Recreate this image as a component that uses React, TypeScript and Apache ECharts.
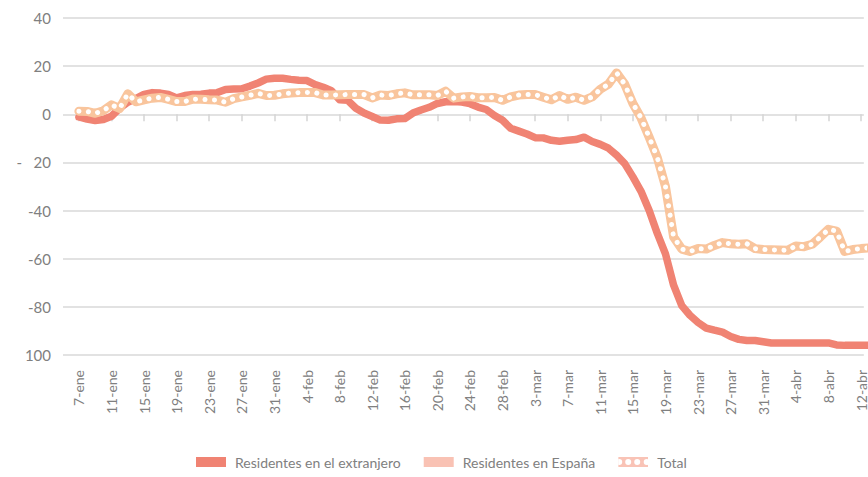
import React, { useEffect, useRef } from "react";
import * as echarts from "echarts";

// Day index 0 = 7-ene ... 97 = 13-abr (daily)
const tickLabels = [
  "7-ene", "11-ene", "15-ene", "19-ene", "23-ene", "27-ene", "31-ene", "4-feb", "8-feb",
  "12-feb", "16-feb", "20-feb", "24-feb", "28-feb", "3-mar", "7-mar", "11-mar", "15-mar",
  "19-mar", "23-mar", "27-mar", "31-mar", "4-abr", "8-abr", "12-abr",
];
const tickStep = 4;

const yTickValues = [-100, -80, -60, -40, -20, 0, 20, 40];
const yTickLabels = ["100", "-80", "-60", "-40", "-   20", "0", "20", "40"];

const extranjero = [
  -1.1, -2.0, -2.6, -2.2, -0.8, 2.5, 5.0, 6.5, 8.3, 9.0,
  8.8, 8.2, 6.8, 7.8, 8.2, 8.3, 8.8, 9.0, 10.3, 10.5,
  10.6, 11.7, 13.0, 14.6, 15.0, 15.0, 14.5, 14.1, 14.0, 12.3,
  11.2, 9.8, 6.0, 5.8, 2.5, 0.5, -0.9, -2.4, -2.5, -1.9,
  -1.8, 0.5, 1.8, 2.9, 4.5, 5.2, 5.3, 5.1, 4.4, 3.0,
  2.0, -0.5, -2.5, -5.8, -7.0, -8.2, -9.7, -9.8, -10.8, -11.2,
  -10.8, -10.5, -9.5, -11.3, -12.5, -14.1, -17.0, -20.5, -26.0, -32.0,
  -40.0, -49.5, -58.0, -71.0, -79.5, -83.5, -86.5, -88.8, -89.7, -90.5,
  -92.3, -93.5, -94.0, -94.0, -94.5, -95.0, -95.0, -95.0, -95.0, -95.0,
  -95.0, -95.0, -95.0, -95.8, -96.0, -96.0, -96.0, -96.0,
];

const espana = [
  1.2, 1.1, 0.4, 1.5, 3.8, 2.4, 8.3, 5.2, 6.0, 6.6,
  6.9, 6.2, 5.3, 5.3, 6.2, 6.1, 5.9, 5.8, 5.0, 6.4,
  7.1, 7.8, 8.6, 7.7, 7.8, 8.4, 8.7, 8.9, 9.0, 8.9,
  8.0, 8.0, 8.1, 8.2, 8.2, 8.2, 6.9, 8.0, 7.8, 8.5,
  8.9, 8.1, 8.1, 8.1, 7.8, 9.6, 6.8, 7.2, 7.4, 6.9,
  6.9, 7.0, 5.9, 7.2, 8.0, 8.2, 8.2, 7.1, 6.1, 7.8,
  6.3, 7.1, 5.9, 7.2, 10.4, 12.5, 17.0, 12.5, 4.6, -1.4,
  -9.3, -17.8, -29.7, -50.7, -55.8, -56.8, -55.6, -55.8, -54.4, -53.2,
  -53.7, -53.9, -53.7, -55.7, -56.1, -56.2, -56.3, -56.4, -54.6, -54.9,
  -53.9, -50.9, -47.8, -48.4, -56.9, -56.1, -55.7, -55.4,
];

const total = [
  1.3, 1.2, 0.4, 1.5, 3.9, 2.4, 8.5, 5.2, 6.0, 6.7,
  7.0, 6.2, 5.3, 5.3, 6.3, 6.2, 6.0, 5.9, 5.0, 6.5,
  7.2, 7.9, 8.7, 7.8, 7.9, 8.5, 8.8, 9.0, 9.1, 9.0,
  8.0, 8.0, 8.1, 8.2, 8.2, 8.2, 6.8, 8.0, 7.8, 8.5,
  8.9, 8.1, 8.1, 8.1, 7.8, 9.6, 6.7, 7.2, 7.4, 6.9,
  6.9, 7.0, 5.8, 7.2, 8.0, 8.2, 8.2, 7.1, 6.0, 7.8,
  6.2, 7.1, 5.8, 7.2, 10.4, 12.5, 17.2, 12.5, 4.5, -1.5,
  -9.5, -18.0, -30.0, -51.0, -56.0, -57.0, -55.8, -56.0, -54.5, -53.3,
  -53.8, -54.0, -53.8, -55.8, -56.2, -56.3, -56.4, -56.5, -54.7, -55.0,
  -54.0, -51.0, -47.8, -48.5, -57.0, -56.2, -55.8, -55.5,
];

const C_EXT = "#F08373";
const C_ESP = "#F9C2B4";
const C_TOT = "#F9C59D";

const totalIcon =
  "image://data:image/svg+xml;utf8," +
  encodeURIComponent(
    "<svg xmlns='http://www.w3.org/2000/svg' width='30' height='10' viewBox='0 0 30 10'>" +
      "<rect width='30' height='10' fill='#F9C3B6'/>" +
      "<circle cx='1' cy='5' r='3' fill='#ffffff'/>" +
      "<circle cx='10' cy='5' r='3' fill='#ffffff'/>" +
      "<circle cx='19' cy='5' r='3' fill='#ffffff'/>" +
      "<circle cx='28.5' cy='5' r='3' fill='#ffffff'/>" +
      "</svg>"
  );

const FONT = "Lato, 'Open Sans', sans-serif";
const TXT = "#808080";

export default function App() {
  const ref = useRef<HTMLDivElement>(null);
  useEffect(() => {
    if (!ref.current) return;
    const chart = echarts.init(ref.current, undefined, { renderer: "svg" });
    const tickIdx = tickLabels.map((_, k) => k * tickStep);
    const toPairs = (arr: number[]) => arr.map((v, i) => [i, v]);
    chart.setOption({
      animation: false,
      backgroundColor: "#ffffff",
      grid: { left: 63, right: 0, top: 18, bottom: 122, containLabel: false },
      xAxis: [
        {
          type: "value",
          min: -1.95,
          max: 96.35,
          position: "bottom",
          axisLine: { show: false, onZero: false },
          axisTick: { show: false },
          splitLine: { show: false },
          axisLabel: {
            customValues: tickIdx,
            rotate: 90,
            margin: 15,
            color: TXT,
            fontFamily: FONT,
            fontSize: 14,
            formatter: (v: number) => tickLabels[Math.round(v / tickStep)] ?? "",
          },
        },
        {
          type: "value",
          min: -1.95,
          max: 96.35,
          position: "bottom",
          axisLine: { show: false, onZero: true },
          axisTick: {
            show: true,
            customValues: tickIdx,
            length: 7,
            lineStyle: { color: "#d4d4d4", width: 1.5 },
          },
          axisLabel: { show: false },
          splitLine: { show: false },
        },
      ],
      yAxis: {
        type: "value",
        min: -100,
        max: 40,
        interval: 20,
        axisLine: { show: false },
        axisTick: { show: false },
        splitLine: { lineStyle: { color: "#d9d9d9", width: 1.5 } },
        axisLabel: {
          margin: 12,
          color: TXT,
          fontFamily: FONT,
          fontSize: 15,
          formatter: (v: number) => {
            const k = yTickValues.indexOf(v);
            return k >= 0 ? yTickLabels[k] : "";
          },
        },
      },
      legend: {
        left: 191,
        top: 450,
        itemWidth: 30,
        itemHeight: 10,
        itemGap: 23,
        icon: "rect",
        textStyle: {
          color: TXT,
          fontFamily: FONT,
          fontSize: 14,
          padding: [0, 0, 0, 4],
        },
        data: [
          { name: "Residentes en el extranjero", itemStyle: { color: C_EXT } },
          { name: "Residentes en España", itemStyle: { color: C_ESP } },
          { name: "Total", icon: totalIcon },
        ],
      },
      series: [
        {
          name: "Residentes en el extranjero",
          type: "line",
          data: toPairs(extranjero),
          showSymbol: false,
          color: C_EXT,
          lineStyle: { color: C_EXT, width: 7.5, join: "round", cap: "round" },
          z: 2,
        },
        {
          name: "Residentes en España",
          type: "line",
          data: toPairs(espana),
          showSymbol: false,
          color: C_ESP,
          lineStyle: { color: C_ESP, width: 6, join: "round" },
          z: 3,
        },
        {
          name: "Total",
          type: "line",
          data: toPairs(total),
          showSymbol: false,
          color: C_TOT,
          lineStyle: { color: C_TOT, width: 9, join: "round", cap: "round" },
          z: 4,
        },
        {
          name: "Total-dots",
          type: "line",
          data: toPairs(total),
          showSymbol: false,
          silent: true,
          lineStyle: {
            color: "#ffffff",
            width: 5,
            type: [0.1, 9.4],
            cap: "round",
            join: "round",
          },
          z: 5,
        },
      ],
    });
    return () => chart.dispose();
  }, []);
  return (
    <div
      ref={ref}
      style={{ position: "absolute", left: 0, top: 0, width: 868, height: 477 }}
    />
  );
}
